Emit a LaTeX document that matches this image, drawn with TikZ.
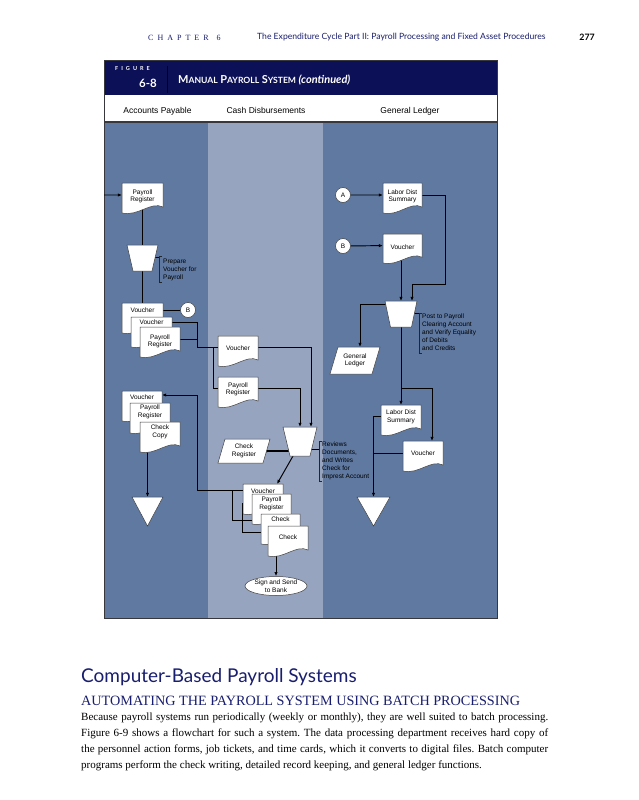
\documentclass[tikz,border=0pt]{standalone}
\usepackage{fontspec}
\setmainfont{Liberation Serif}
\newfontfamily\dsans{Liberation Sans}
\newfontfamily\gill{Lato}
\newfontfamily\spacedserif[LetterSpace=50]{Liberation Serif}
\newfontfamily\gillsp[LetterSpace=55]{Lato}
\usetikzlibrary{shapes.geometric,arrows.meta,calc}
\pgfdeclarelayer{lanes}
\pgfdeclarelayer{conn}
\pgfsetlayers{lanes,conn,main}
\definecolor{navybar}{RGB}{12,16,86}
\definecolor{lanedk}{RGB}{95,121,161}
\definecolor{lanelt}{RGB}{150,164,192}
\definecolor{headnavy}{RGB}{25,30,110}
\definecolor{framec}{RGB}{55,55,60}
\tikzset{
  conn/.style={line width=0.95pt, black},
  arr/.style={conn, -{Latex[length=4.2pt,width=3.4pt]}},
  shp/.style={fill=white, draw=black!75, line width=0.5pt},
  dtext/.style={font=\dsans\fontsize{6.5}{7.4}\selectfont, align=center, inner sep=0pt},
  anno/.style={font=\dsans\fontsize{6.5}{7.9}\selectfont, align=left, inner sep=0pt, anchor=north west},
  box/.style={inner sep=0pt, outer sep=0pt},
  brk/.style={line width=0.8pt, black!85},
  circ/.style={circle, shp, minimum size=15pt, inner sep=0pt, font=\dsans\fontsize{6.5}{6.5}\selectfont},
  lanehead/.style={font=\dsans\fontsize{8.5}{9}\selectfont, inner sep=0pt, anchor=base},
}
% document symbol: name, x, y, w, h, text offset, text
\newcommand\Doc[7]{%
  \path[shp] (#2,#3) -- ({#2+#4},#3) -- ({#2+#4},{#3+0.8*#5})
     .. controls ({#2+0.7*#4},{#3+0.6*#5}) and ({#2+0.4*#4},{#3+1.12*#5}) .. (#2,{#3+#5}) -- cycle;
  \node[box, minimum width=#4pt, minimum height={0.8*#5pt}] (#1) at ({#2+#4/2},{#3+0.4*#5}) {};
  \node[dtext] (#1-t) at ({#2+#4/2},{#3+#6}) {#7};
}
% manual operation: name, cx, ytop, top width, bottom width, h
\newcommand\Manual[6]{%
  \node[box, minimum width=#4pt, minimum height=#6pt] (#1) at (#2,{#3+#6/2}) {};
  \path[shp] (#1.north west) -- (#1.north east) -- ({#2+#5/2},{#3+#6}) -- ({#2-#5/2},{#3+#6}) -- cycle;
}
% file triangle: name, cx, ytop, w, h
\newcommand\Tri[5]{%
  \node[box, minimum width=#4pt, minimum height=#5pt] (#1) at (#2,{#3+#5/2}) {};
  \path[shp] (#1.north west) -- (#1.north east) -- (#1.south) -- cycle;
}
% parallelogram: name, x1, y1, x2, y2, slant, text
\newcommand\Para[7]{%
  \path[shp] ({#2+#6},#3) -- (#4,#3) -- ({#4-#6},#5) -- (#2,#5) -- cycle;
  \node[box, dtext, minimum width={(#4-#2-#6)*1pt}, minimum height={(#5-#3)*1pt}] (#1) at ({(#2+#4)/2},{(#3+#5)/2}) {#7};
}
\newcommand\SCw[2]{{\fontsize{11}{12}\selectfont #1}{\fontsize{8.6}{9}\selectfont #2}}
\begin{document}
\begin{tikzpicture}[x=1pt,y=-1pt]
\useasboundingbox (0,0) rectangle (639,800);
\begin{pgfonlayer}{lanes}
  \fill[white] (0,0) rectangle (639,800);
  \fill[navybar] (104,61) rectangle (497,95);
  \fill[lanedk] (104,122) rectangle (207.5,618);
  \fill[lanelt] (207.5,122) rectangle (323,618);
  \fill[lanedk] (323,122) rectangle (497,618);
  \draw[framec, line width=1pt] (104,61) rectangle (497,618);
  \draw[framec, line width=1.2pt] (104,122) -- (497,122);
\end{pgfonlayer}

% page header
\node[anchor=west, inner sep=0pt, text=headnavy, font=\spacedserif\fontsize{8}{9}\selectfont] (chap) at (148,37.5) {CHAPTER\hspace{8pt}6};
\node[anchor=west, inner sep=0pt, text=headnavy, font=\gill\fontsize{8.6}{9}\selectfont] (ptitle) at (257,37.5) {The Expenditure Cycle Part II: Payroll Processing and Fixed Asset Procedures};
\node[anchor=east, inner sep=0pt, font=\gill\bfseries\fontsize{8.8}{9}\selectfont] (pnum) at (595,37.5) {277};

% figure title bar
\node[anchor=west, inner sep=0pt, text=white, font=\gillsp\bfseries\fontsize{5.5}{6}\selectfont] (figlbl) at (115,69) {FIGURE};
\node[anchor=east, inner sep=0pt, text=white, font=\gill\bfseries\fontsize{11.5}{12}\selectfont] (fignum) at (157,83) {6-8};
\draw[black, line width=0.8pt] (167,66) -- (167,93);
\node[anchor=west, inner sep=0pt, text=white, font=\gill\bfseries] (figtitle) at (178,80.5)
  {\SCw{M}{ANUAL} \SCw{P}{AYROLL} \SCw{S}{YSTEM} {\fontsize{11}{11}\selectfont\itshape (continued)}};

% lane headers
\node[lanehead] (hAP) at (157.5,113) {Accounts Payable};
\node[lanehead] (hCD) at (266,113) {Cash Disbursements};
\node[lanehead] (hGL) at (410,113) {General Ledger};

% ---- Accounts Payable lane
\Doc{lpr}{122}{183}{41}{30}{13.5}{Payroll\\Register}
\Manual{lman}{142.5}{245}{31}{19}{26}
\draw[brk] (162,256) -- (159,256) -- (159,282) -- (162,282);
\node[anno] (n1) at (163,259) {Prepare\\Voucher for\\Payroll};
\Doc{lv1}{122}{303}{41}{30}{7}{Voucher}
\Doc{lv2}{131}{317}{41}{30}{5}{Voucher}
\Doc{lv3}{140}{327}{40}{30}{14.5}{Payroll\\Register}
\node[circ] (cB) at (188,310) {B};
\Doc{lbv1}{122}{391}{40}{30}{6.5}{Voucher}
\Doc{lbv2}{130}{403}{40}{30}{9}{Payroll\\Register}
\Doc{lbv3}{140}{422}{40}{30}{10}{Check\\Copy}
\Tri{ltri}{147.5}{497}{31}{29}

% ---- Cash Disbursements lane
\Doc{mv}{218}{336}{40}{30}{12}{Voucher}
\Doc{mpr}{218}{377}{40}{30}{12.5}{Payroll\\Register}
\Manual{mman}{300}{427}{34}{20}{29}
\Para{mcr}{218}{439}{270}{463}{7}{Check\\Register}
\draw[brk] (322,441) -- (319,441) -- (319,481) -- (322,481);
\node[anno] (n2) at (322,442) {Reviews\\Documents,\\and Writes\\Check for\\Imprest Account};
\Doc{sv}{243}{484}{40}{30}{7}{Voucher}
\Doc{spr}{252}{494}{39}{30}{10}{Payroll\\Register}
\Doc{sck}{261}{514}{39}{30}{5.5}{Check}
\Doc{sck2}{268}{526}{40}{30}{11}{Check}
\node[ellipse, dtext, shp, minimum width=62pt, minimum height=19pt] (ell) at (276,586) {Sign and Send\\to Bank};

% ---- General Ledger lane
\node[circ] (cA) at (343,195) {A};
\node[circ] (cB2) at (343,246) {B};
\Doc{rlds}{383}{183}{39}{30}{13.5}{Labor Dist\\Summary}
\Doc{rv}{383}{234}{39}{29}{13}{Voucher}
\Manual{rman}{401}{301}{32}{21}{26}
\draw[brk] (422,313) -- (419,313) -- (419,353) -- (422,353);
\node[anno] (n3) at (422,313.5) {Post to Payroll\\Clearing Account\\and Verify Equality\\of Debits\\and Credits};
\Para{rgl}{330}{347}{380}{374}{8}{General\\Ledger}
\Doc{rlds2}{381}{405}{40}{30}{12}{Labor Dist\\Summary}
\Doc{rv2}{403}{441}{40}{30}{12}{Voucher}
\Tri{rtri}{373.5}{497}{33}{29}

% ---- connectors
\begin{pgfonlayer}{conn}
  \coordinate (inL) at (104,195);
  \draw[arr] (inL) -- (lpr.west);
  \draw[conn] (lpr) -- (lman);
  \draw[conn] (lman) -- (lv1);
  \coordinate (b1) at (159,257);
  \draw[conn] (lman.center |- b1) -- (b1);
  \draw[conn] (lv1.center |- cB) -- (cB);
  \coordinate (j1) at (197,322);
  \coordinate (j2) at (197,347);
  \draw[conn] (lv2.center |- j1) -- (j1) -- (j2) -- (mv.west |- j2);
  \coordinate (j3) at (197,339);
  \draw[conn] (lv3.center |- j3) -- (j3);
  \coordinate (j4) at (213,347);
  \coordinate (j5) at (213,388);
  \draw[conn] (j4) -- (j5) -- (mpr.west |- j5);
  \coordinate (j6) at (311,347);
  \draw[arr] (mv.center |- j6) -- (j6) -- (j6 |- mman.north);
  \coordinate (j7) at (300,388);
  \draw[arr] (mpr.center |- j7) -- (j7) -- (j7 |- mman.north);
  \draw[arr, line width=1.3pt] (mman.center |- mcr.east) -- ([xshift=-3.5pt]mcr.east);
  \coordinate (b2) at (319,449);
  \draw[conn] (mman.center |- b2) -- (b2);
  \draw[arr] ([xshift=-7pt]mman.south) -- ([xshift=14pt]sv.north);
  \coordinate (k1) at (197,490);
  \coordinate (k2) at (197,395);
  \draw[arr] (sv.center |- k1) -- (k1) -- (k2) -- (lbv1.east |- k2);
  \coordinate (k3) at (232,490);
  \coordinate (k4) at (232,520);
  \draw[conn] (k3) -- (k4) -- (sck.center |- k4);
  \coordinate (k5) at (242,503);
  \coordinate (k6) at (242,532);
  \draw[conn] (spr.center |- k5) -- (k5) -- (k6) -- (sck2.center |- k6);
  \draw[arr] (ell.north |- sck2.center) -- (ell.north);
  \draw[arr] (ltri.north |- lbv3.center) -- (ltri.north);
  \draw[arr] (cA) -- (rlds.west);
  \draw[arr] (cB2) -- (rv.west);
  \coordinate (r1) at (445,195);
  \coordinate (r2) at (445,284);
  \coordinate (r3) at (412,284);
  \draw[arr] (rlds.center |- r1) -- (r1) -- (r2) -- (r3) -- (r3 |- rman.north);
  \draw[arr] (rman.north |- rv.center) -- (rman.north);
  \coordinate (r4) at (360,304);
  \draw[arr] (rman.center |- r4) -- (r4) -- (r4 |- rgl.north);
  \coordinate (b3) at (419,313);
  \draw[conn] (rman.center |- b3) -- (b3);
  \draw[arr] (rman) -- (rman |- rlds2.north);
  \coordinate (r5) at (401,388);
  \coordinate (r6) at (432,388);
  \draw[arr] (r5) -- (r6) -- (r6 |- rv2.north);
  \coordinate (r7) at (373.5,416);
  \coordinate (r8) at (373.5,453);
  \draw[arr] (rlds2.center |- r7) -- (r7) -- (r7 |- rtri.north);
  \draw[conn] (rv2.center |- r8) -- (r8);
\end{pgfonlayer}

% ---- text below the figure
\node[anchor=base west, inner sep=0pt, text=headnavy, font=\gill\fontsize{19}{20}\selectfont] (h1) at (81,682) {Computer-Based Payroll Systems};
\node[anchor=base west, inner sep=0pt, text=headnavy, font=\fontsize{14.2}{15}\selectfont] (h2) at (81,705) {AUTOMATING THE PAYROLL SYSTEM USING BATCH PROCESSING};
\node[anchor=base west, inner sep=0pt, font=\fontsize{11}{12}\selectfont\frenchspacing] (p1) at (81,720) {\hbox to 467pt{Because payroll systems run periodically (weekly or monthly), they are well suited to batch processing.}};
\node[anchor=base west, inner sep=0pt, font=\fontsize{11}{12}\selectfont\frenchspacing] (p2) at (81,736) {\hbox to 467pt{Figure 6-9 shows a flowchart for such a system. The data processing department receives hard copy of}};
\node[anchor=base west, inner sep=0pt, font=\fontsize{11}{12}\selectfont\frenchspacing] (p3) at (81,752) {\hbox to 467pt{the personnel action forms, job tickets, and time cards, which it converts to digital files. Batch computer}};
\node[anchor=base west, inner sep=0pt, font=\fontsize{11}{12}\selectfont\frenchspacing] (p4) at (81,768) {programs perform the check writing, detailed record keeping, and general ledger functions.};
\end{tikzpicture}
\end{document}
